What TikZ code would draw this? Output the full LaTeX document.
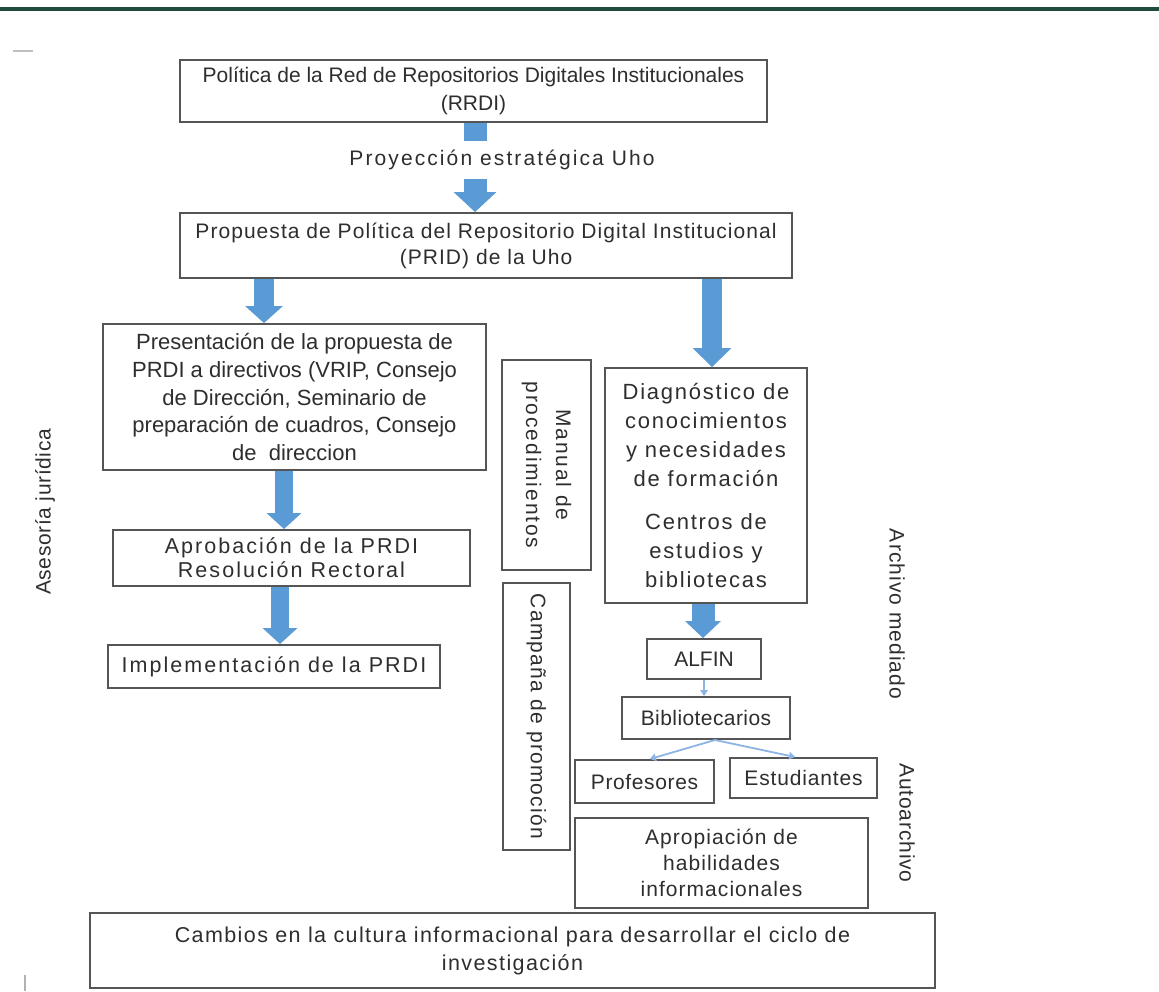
\documentclass[tikz,border=0pt]{standalone}
\usepackage{fontspec}
\setmainfont{Liberation Sans}
\usetikzlibrary{arrows.meta}
\definecolor{txt}{HTML}{2E2E2E}
\definecolor{boxc}{HTML}{555555}
\definecolor{blk}{HTML}{5B9BD5}
\definecolor{thinb}{HTML}{8DB4E2}
\definecolor{grn}{HTML}{1E4D3B}
\begin{document}
\begin{tikzpicture}[x=1pt,y=-1pt,
  every node/.style={text=txt},
  fs/.style n args={3}{font=\fontsize{#1}{#3}\selectfont\addfontfeatures{LetterSpace=#2}},
  box/.style={draw=boxc, line width=2pt, align=center, inner sep=0pt},
  barrow/.style n args={3}{draw=blk, line width=#1, -{Triangle[width=#2,length=#3,line width=0pt]}},
  tarrow/.style={draw=thinb, line width=1.8pt, -{Triangle[width=8pt,length=6pt,line width=0pt]}}
]
\useasboundingbox (0,0) rectangle (1159,991);
\fill[white] (0,0) rectangle (1159,991);
% decorations
\draw[grn, line width=3.5pt] (0,9) -- (1159,9);
\draw[gray!50, line width=1.5pt] (13,51) -- (33,51);
\draw[gray!60, line width=1.5pt] (25,975) -- (25,991);

% boxes
\node[box, fs={21}{0}{28}, minimum width=587, minimum height=62] (b1) at (473.5,91)
  {Política de la Red de Repositorios Digitales Institucionales\\(RRDI)};
\node[fs={21}{10}{28}] (lab) at (502,160) {Proyección estratégica Uho};
\node[box, fs={21}{5}{26}, minimum width=612, minimum height=65] (b2) at (486,245.5)
  {Propuesta de Política del Repositorio Digital Institucional\\(PRID) de la Uho};
\node[box, fs={22}{0}{27.7}, minimum width=383, minimum height=146] (b3) at (294.5,397)
  {Presentación de la propuesta de\\PRDI a directivos (VRIP, Consejo\\de Dirección, Seminario de\\preparación de cuadros, Consejo\\de \ direccion};
\node[box, fs={21.5}{9.5}{24}, minimum width=357, minimum height=56] (b4) at (291.5,558)
  {Aprobación de la PRDI\\Resolución Rectoral};
\node[box, fs={21.5}{9.5}{24}, minimum width=332, minimum height=43] (b5) at (274,666.5)
  {Implementación de la PRDI};
\node[box, fs={21}{9}{30}, rotate=-90, minimum width=210, minimum height=89] (man) at (546.5,465)
  {Manual de\\procedimientos};
\node[box, fs={21}{6}{28}, rotate=-90, minimum width=267, minimum height=67] (camp) at (536.5,716.5)
  {Campaña de promoción};
\node[box, fs={22}{8}{29}, minimum width=202, minimum height=235] (diag) at (706,485.5)
  {Diagnóstico de\\conocimientos\\y necesidades\\de formación\\[14pt]Centros de\\estudios y\\bibliotecas};
\node[box, fs={21}{0}{24}, minimum width=114, minimum height=40] (alfin) at (704,659) {ALFIN};
\node[box, fs={21}{2}{24}, minimum width=168, minimum height=42] (bib) at (706,718) {Bibliotecarios};
\node[box, fs={21}{3}{24}, minimum width=139, minimum height=43] (prof) at (644.5,781.5) {Profesores};
\node[box, fs={21}{4}{24}, minimum width=147, minimum height=40] (est) at (803.5,778) {Estudiantes};
\node[box, fs={21}{5}{26}, minimum width=293, minimum height=90] (aprop) at (721.5,863)
  {Apropiación de\\habilidades\\informacionales};
\node[box, fs={21.5}{6.5}{28}, minimum width=845, minimum height=75] (camb) at (512.5,950.5)
  {Cambios en la cultura informacional para desarrollar el ciclo de\\investigación};

% side labels
\node[fs={21}{3}{24}, rotate=90] (ases) at (45,512) {Asesoría jurídica};
\node[fs={21}{5}{24}, rotate=-90] (arch) at (897,614) {Archivo mediado};
\node[fs={21}{4}{24}, rotate=-90] (auto) at (907,823) {Autoarchivo};

% connectors
\draw[draw=blk, line width=23pt, shorten >=6pt] (b1.south -| 475,0) -- (lab.north -| 475,0);
\draw[barrow={23pt}{43pt}{20pt}, shorten <=6pt] (lab.south -| 475,0) -- (b2.north -| 475,0);
\draw[barrow={20pt}{38pt}{17pt}] (b2.south -| 264,0) -- (b3.north -| 264,0);
\draw[barrow={20pt}{39pt}{19pt}] (b2.south -| 712,0) -- (diag.north -| 712,0);
\draw[barrow={18pt}{35pt}{16pt}] (b3.south -| 284,0) -- (b4.north -| 284,0);
\draw[barrow={18pt}{35pt}{16pt}] (b4.south -| 280,0) -- (b5.north -| 280,0);
\draw[barrow={23pt}{36pt}{17pt}] (diag.south -| 703,0) -- (alfin.north -| 703,0);
\draw[tarrow] (alfin.south -| 704,0) -- (bib.north -| 704,0);
\draw[tarrow] (bib.south -| 715,0) -- (prof.north -| 650,0);
\draw[tarrow] (bib.south -| 715,0) -- (est.north -| 795,0);
\end{tikzpicture}
\end{document}
